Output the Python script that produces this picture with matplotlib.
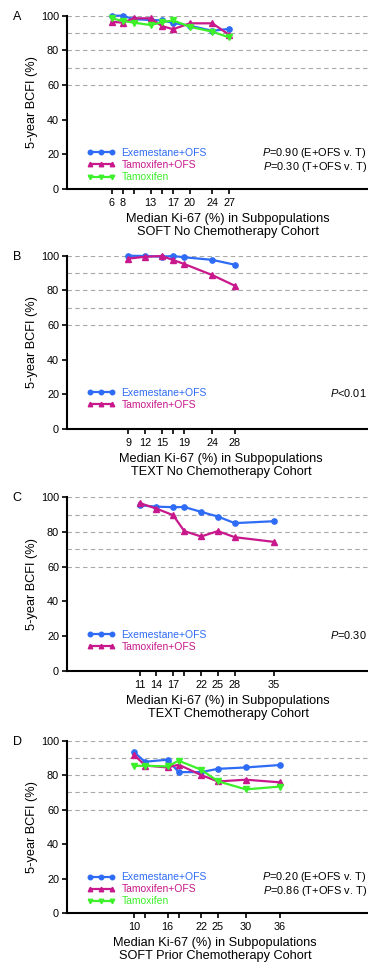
import numpy as np
import matplotlib
matplotlib.use("Agg")
import matplotlib.pyplot as plt

plt.rcParams['font.family'] = ['Liberation Sans', 'DejaVu Sans']
plt.rcParams['mathtext.fontset'] = 'custom'
plt.rcParams['mathtext.rm'] = 'Liberation Sans'
plt.rcParams['mathtext.it'] = 'Liberation Sans:italic'

# colours of the three arms
col_exe = '#2f6cf5'
col_tof = '#c8188c'
col_tam = '#3cf02a'

# panel A - SOFT no chemotherapy
a_ki67 = [6, 8, 10, 13, 15, 17, 20, 24, 27]
a_labels = ['6', '8', '', '13', '', '17', '20', '24', '27']
a_exe = [100, 100, 98.0, 97.5, 97.3, 95.8, 94.2, 91.3, 92.4]
a_tof = [96.5, 96.0, 98.5, 98.5, 94.0, 92.2, 95.6, 95.6, 89.0]
a_tam = [98.5, 97.0, 96.0, 94.6, 96.2, 97.3, 93.6, 90.8, 87.5]

# panel B - TEXT no chemotherapy
b_ki67 = [9, 12, 15, 17, 19, 24, 28]
b_labels = ['9', '12', '15', '', '19', '24', '28']
b_exe = [100, 99.8, 99.5, 99.8, 99.1, 97.6, 94.8]
b_tof = [98.3, 99.4, 99.8, 97.5, 95.2, 88.8, 82.7]

# panel C - TEXT chemotherapy
c_ki67 = [11, 14, 17, 19, 22, 25, 28, 35]
c_labels = ['11', '14', '17', '', '22', '25', '28', '35']
c_exe = [95.4, 94.6, 94.3, 94.4, 91.6, 88.9, 85.1, 86.2]
c_tof = [96.7, 93.5, 89.7, 80.5, 77.4, 80.5, 77.0, 74.3]

# panel D - SOFT prior chemotherapy
d_ki67 = [10, 12, 16, 18, 22, 25, 30, 36]
d_labels = ['10', '', '16', '', '22', '25', '30', '36']
d_exe = [93.4, 87.8, 89.0, 81.8, 81.8, 83.7, 84.5, 85.9]
d_tof = [92.0, 85.6, 84.5, 86.1, 80.1, 76.4, 77.4, 75.9]
d_tam = [85.4, 85.5, 85.1, 88.4, 83.2, 76.5, 71.8, 73.4]

W, H = 368, 969
fig = plt.figure(figsize=(W / 100, H / 100), dpi=100)

# axes boxes in pixels: top, bottom (left at 66.7, right at figure edge)
boxes = [(15.7, 189), (255.7, 429), (497.3, 670.7), (740.7, 913.3)]
left_px = 66.7


def panel(box, letter, x, labels, series, ptexts, cohort, label_x):
    top, bot = box
    ax = fig.add_axes([left_px / W, 1 - bot / H, (W - left_px) / W, (bot - top) / H])
    for yy in [60, 70, 80, 90, 100]:
        ax.axhline(yy, color='#a8a8a8', lw=0.8, ls=(0, (4, 3)), zorder=0)
    for vals, col, mk, name in series:
        ax.plot(x, vals, color=col, marker=mk, ms=3.8, lw=1.6, label=name,
                clip_on=False, zorder=3)
    ax.set_xlim(-2, -2 + (W - left_px) / 5.6)
    ax.set_ylim(0, 100)
    ax.set_yticks([0, 20, 40, 60, 80, 100])
    ax.set_xticks(x)
    ax.set_xticklabels(labels)
    ax.tick_params(labelsize=7.8, width=1.2, length=3.5, pad=2)
    ax.tick_params(axis='x', pad=3)
    for s in ['top', 'right']:
        ax.spines[s].set_visible(False)
    for s in ['left', 'bottom']:
        ax.spines[s].set_linewidth(1.5)
    ax.set_ylabel('5-year BCFI (%)', fontsize=9.2)
    ax.yaxis.set_label_coords(-(left_px - 38) / (W - left_px), 0.5)
    fx = (label_x - left_px) / (W - left_px)
    ax.annotate('Median Ki-67 (%) in Subpopulations', xy=(fx, 0), xycoords='axes fraction',
                xytext=(0, -30), textcoords='offset pixels', ha='center', va='center', fontsize=9.2)
    ax.annotate(cohort, xy=(fx, 0), xycoords='axes fraction',
                xytext=(0, -43), textcoords='offset pixels', ha='center', va='center', fontsize=9.2)
    fig.text(17.3 / W, 1 - (top + 1) / H, letter, ha='center', va='center', fontsize=9)
    leg = ax.legend(loc='upper left', bbox_to_anchor=(87 / W, 1 - (bot - 41) / H),
                    bbox_transform=fig.transFigure, frameon=False, fontsize=7.5,
                    numpoints=3, handlelength=2.7, handletextpad=0.6, labelspacing=0.2,
                    borderaxespad=0, borderpad=0, markerscale=0.85)
    for t, (vals, col, mk, name) in zip(leg.get_texts(), series):
        t.set_color(col)
    for i, p in enumerate(ptexts):
        ax.annotate(p, xy=(1, 0), xycoords='axes fraction', xytext=(-1, 36 - 13.5 * i),
                    textcoords='offset pixels', ha='right', va='center', fontsize=7.9)
    return ax


panel(boxes[0], 'A', a_ki67, a_labels,
      [(a_exe, col_exe, 'o', 'Exemestane+OFS'), (a_tof, col_tof, '^', 'Tamoxifen+OFS'),
       (a_tam, col_tam, 'v', 'Tamoxifen')],
      [r'$\it{P}$=0.90 (E+OFS v. T)', r'$\it{P}$=0.30 (T+OFS v. T)'],
      'SOFT No Chemotherapy Cohort', 228)
panel(boxes[1], 'B', b_ki67, b_labels,
      [(b_exe, col_exe, 'o', 'Exemestane+OFS'), (b_tof, col_tof, '^', 'Tamoxifen+OFS')],
      [r'$\it{P}$<0.01'],
      'TEXT No Chemotherapy Cohort', 221)
panel(boxes[2], 'C', c_ki67, c_labels,
      [(c_exe, col_exe, 'o', 'Exemestane+OFS'), (c_tof, col_tof, '^', 'Tamoxifen+OFS')],
      [r'$\it{P}$=0.30'],
      'TEXT Chemotherapy Cohort', 228)
panel(boxes[3], 'D', d_ki67, d_labels,
      [(d_exe, col_exe, 'o', 'Exemestane+OFS'), (d_tof, col_tof, '^', 'Tamoxifen+OFS'),
       (d_tam, col_tam, 'v', 'Tamoxifen')],
      [r'$\it{P}$=0.20 (E+OFS v. T)', r'$\it{P}$=0.86 (T+OFS v. T)'],
      'SOFT Prior Chemotherapy Cohort', 215)

fig.savefig('out.png', dpi=100)
